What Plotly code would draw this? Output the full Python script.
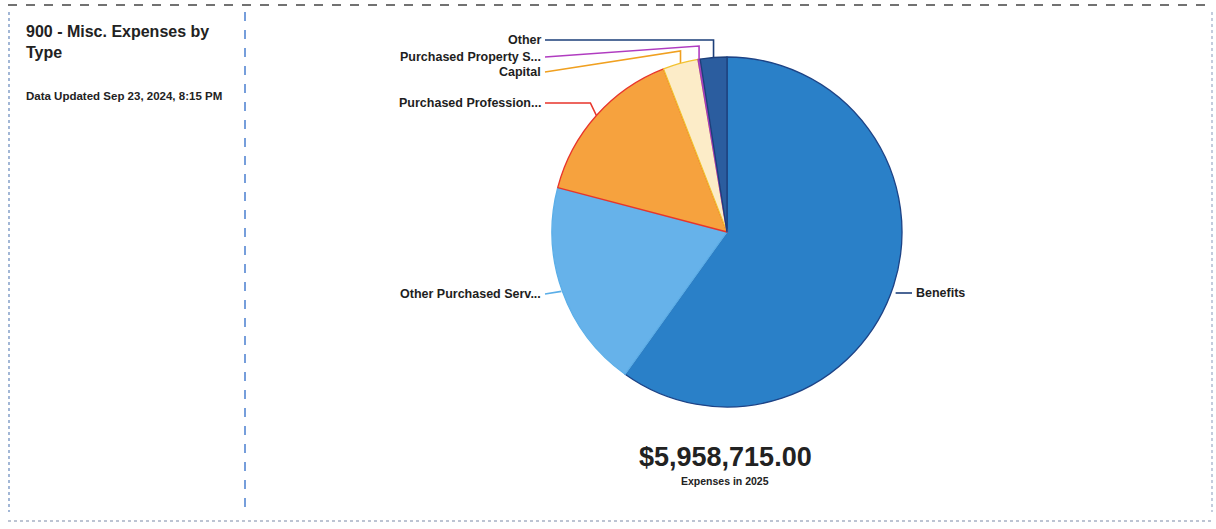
import plotly.graph_objects as go
import math

# ---- data -------------------------------------------------------------
categories = [
    "Benefits",
    "Other Purchased Services",
    "Purchased Professional Services",
    "Capital",
    "Purchased Property Services",
    "Other",
]
display_labels = [
    "Benefits",
    "Other Purchased Serv...",
    "Purchased Profession...",
    "Capital",
    "Purchased Property S...",
    "Other",
]
amounts = [3568715, 1144000, 894000, 194000, 12000, 146000]
year = 2025
title_text = "900 - Misc. Expenses by<br>Type"
updated_text = "Data Updated Sep 23, 2024, 8:15 PM"

# ---- style -------------------------------------------------------------
W, H = 1216, 529
fill_colors = ["#2a80c8", "#66b2ea", "#f6a23e", "#fcecc8", "#a34bb8", "#2b5d9f"]
edge_colors = ["#1d4386", "#5aaee8", "#e8352b", "#f2c230", "#a33cbc", "#1d3f7a"]
leader_colors = ["#1d3f7a", "#5aaee8", "#e8352b", "#f0a020", "#b03cc0", "#1d3f7a"]
FONT = "Liberation Sans, Arial, sans-serif"

# pie placement in pixels
cx, cy, r = 727, 232, 175

# label placement: side, label y, elbow y, elbow x offset from edge point
label_layout = {
    "Benefits": ("right", 293, None, 0),
    "Other Purchased Services": ("left", 294, None, 0),
    "Purchased Professional Services": ("left", 103, 103, -6),
    "Capital": ("left", 72, 51, 0),
    "Purchased Property Services": ("left", 57, 46, 0),
    "Other": ("left", 40, 40, 0),
}
left_text_x = 543
right_text_x = 914

fig = go.Figure()

fig.add_trace(go.Pie(
    labels=categories,
    values=amounts,
    sort=False,
    direction="clockwise",
    rotation=0,
    textinfo="none",
    hoverinfo="skip",
    marker=dict(colors=fill_colors, line=dict(color=edge_colors, width=1.3)),
    domain=dict(x=[(cx - r) / W, (cx + r) / W], y=[(H - cy - r) / H, (H - cy + r) / H]),
    showlegend=False,
))

total = sum(amounts)
cum = 0
annotations = []
for cat, lab, val, lc in zip(categories, display_labels, amounts, leader_colors):
    mid = 2 * math.pi * (cum + val / 2) / total
    cum += val
    ex = cx + r * math.sin(mid)
    ey = cy - r * math.cos(mid)
    side, ly, elbow_y, kdx = label_layout[cat]
    if side == "right":
        xs = [ex + 2, right_text_x - 2]
        ys = [ly, ly]
        tx, anchor = right_text_x, "left"
    else:
        if elbow_y is None:
            xs = [ex - 1, left_text_x + 2]
            ys = [ey, ly]
        else:
            xs = [ex, ex + kdx, left_text_x + 2]
            ys = [ey, elbow_y, ly]
        tx, anchor = left_text_x, "right"
    fig.add_trace(go.Scatter(
        x=xs, y=ys, mode="lines", line=dict(color=lc, width=1.6),
        hoverinfo="skip", showlegend=False, xaxis="x", yaxis="y",
    ))
    annotations.append(dict(
        x=tx, y=ly, xref="x", yref="y", text=f"<b>{lab}</b>", showarrow=False,
        xanchor=anchor, yanchor="middle",
        font=dict(family=FONT, size=12.5, color="#1e1e1e"),
    ))

# headline and subtitle under the pie
annotations.append(dict(
    x=cx - 2, y=457, xref="x", yref="y", text=f"<b>${total:,.2f}</b>",
    showarrow=False, xanchor="center", yanchor="middle",
    font=dict(family=FONT, size=27, color="#222222"),
))
annotations.append(dict(
    x=cx - 2, y=481, xref="x", yref="y", text=f"<b>Expenses in {year}</b>",
    showarrow=False, xanchor="center", yanchor="middle",
    font=dict(family=FONT, size=10.5, color="#222222"),
))
# card title
annotations.append(dict(
    x=24, y=21, xref="x", yref="y", text=f"<b>{title_text}</b>",
    showarrow=False, xanchor="left", yanchor="top", align="left",
    font=dict(family=FONT, size=16, color="#222222"),
))
annotations.append(dict(
    x=24, y=96, xref="x", yref="y", text=f"<b>{updated_text}</b>",
    showarrow=False, xanchor="left", yanchor="middle",
    font=dict(family=FONT, size=11.5, color="#222222"),
))

# card borders
shapes = [
    dict(type="line", xref="x", yref="y", x0=8, x1=1212, y0=5, y1=5,
         line=dict(color="#444444", width=1.5, dash="dash")),
    dict(type="line", xref="x", yref="y", x0=8, x1=1212, y0=521, y1=521,
         line=dict(color="#7a8aa8", width=1.2, dash="dot")),
    dict(type="line", xref="x", yref="y", x0=245, x1=245, y0=12, y1=512,
         line=dict(color="#4a7fd0", width=1.5, dash="dash")),
    dict(type="line", xref="x", yref="y", x0=9, x1=9, y0=12, y1=512,
         line=dict(color="#6688bb", width=1.2, dash="dot")),
    dict(type="line", xref="x", yref="y", x0=1212, x1=1212, y0=12, y1=512,
         line=dict(color="#8899bb", width=1.0, dash="dot")),
]

fig.update_layout(
    width=W, height=H,
    margin=dict(l=0, r=0, t=0, b=0),
    paper_bgcolor="white", plot_bgcolor="rgba(0,0,0,0)",
    xaxis=dict(range=[0, W], visible=False, fixedrange=True, domain=[0, 1]),
    yaxis=dict(range=[H, 0], visible=False, fixedrange=True, domain=[0, 1]),
    annotations=annotations,
    shapes=shapes,
    hovermode=False,
)

fig.write_html("out.html", config={"displayModeBar": False})
